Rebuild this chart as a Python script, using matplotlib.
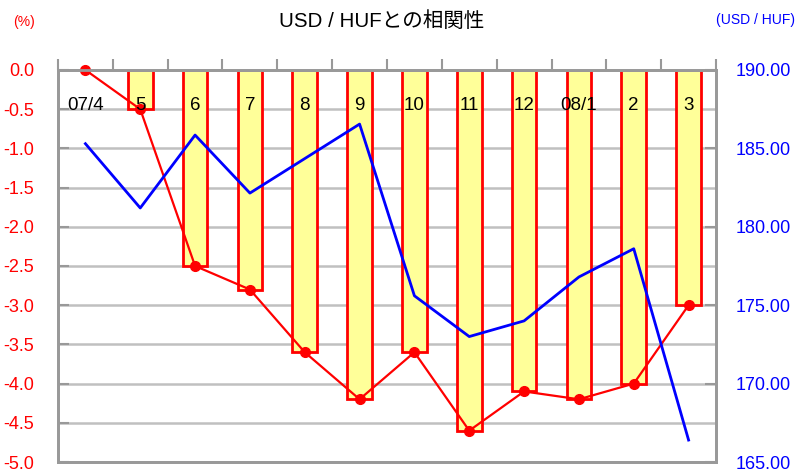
import numpy as np
import matplotlib
matplotlib.use("Agg")
from matplotlib import pyplot as plt

plt.rcParams['font.family'] = ['Liberation Sans', 'Noto Sans CJK JP', 'DejaVu Sans']

months = ['07/4', '5', '6', '7', '8', '9', '10', '11', '12', '08/1', '2', '3']
# correlation (%) -- bars and red line share the same values
corr = [0.0, -0.5, -2.5, -2.8, -3.6, -4.2, -3.6, -4.6, -4.1, -4.2, -4.0, -3.0]
# USD/HUF rate (right axis)
usdhuf = [185.3, 181.2, 185.85, 182.15, 184.35, 186.55, 175.6, 173.0, 174.0, 176.8, 178.6, 166.4]

GRID = '#c0c0c0'
AXIS = '#999999'

fig = plt.figure(figsize=(8, 4.71), dpi=100)
ax = fig.add_axes([0.0725, 0.0191, 0.8225, 0.8323])
x = np.arange(len(months))

# bars (skip zero-height ones so no flat red edge is drawn)
bx = [i for i, v in zip(x, corr) if v != 0]
bv = [v for v in corr if v != 0]
ax.bar(bx, bv, width=0.45, color='#ffff99', edgecolor='red', linewidth=2, zorder=2)
ax.plot(x, corr, color='red', lw=1.6, marker='o', ms=7, zorder=4, clip_on=False)

for i, m in enumerate(months):
    ax.text(i, -0.45, m, ha='center', va='center', fontsize=13.5, color='black', zorder=5)

ax.set_xlim(-0.5, len(months) - 0.5)
ax.set_ylim(-5, 0)
ax.set_yticks(np.arange(-5, 0.01, 0.5))
ax.set_yticklabels(['%.1f' % v for v in np.arange(-5, 0.01, 0.5)])
ax.yaxis.grid(True, color=GRID, lw=1.8, zorder=0)
ax.set_axisbelow(True)
ax.tick_params(axis='y', direction='in', length=8, width=1.5, color=AXIS,
               labelcolor='red', labelsize=13, pad=17)

ax.xaxis.tick_top()
ax.set_xticks(np.arange(-0.5, len(months), 1))
ax.set_xticklabels([])
ax.tick_params(axis='x', direction='out', length=8, width=1.5, color=AXIS)

for s in ax.spines.values():
    s.set_color(AXIS)
    s.set_linewidth(2)

ax2 = ax.twinx()
ax2.plot(x, usdhuf, color='blue', lw=2, zorder=3)
ax2.set_ylim(165, 190)
ax2.set_yticks(np.arange(165, 190.1, 5))
ax2.set_yticklabels(['%.2f' % v for v in np.arange(165, 190.1, 5)])
ax2.tick_params(axis='y', direction='in', length=8, width=1.5, color=AXIS,
                labelcolor='blue', labelsize=13, pad=14)
for s in ax2.spines.values():
    s.set_color(AXIS)
    s.set_linewidth(2)

fig.text(0.477, 0.955, 'USD / HUFとの相関性', ha='center', va='center', fontsize=14.8)
fig.text(0.03, 0.953, '(%)', ha='center', va='center', fontsize=10, color='red')
fig.text(0.944, 0.957, '(USD / HUF)', ha='center', va='center', fontsize=10, color='blue')

fig.savefig('out.png', dpi=100)
